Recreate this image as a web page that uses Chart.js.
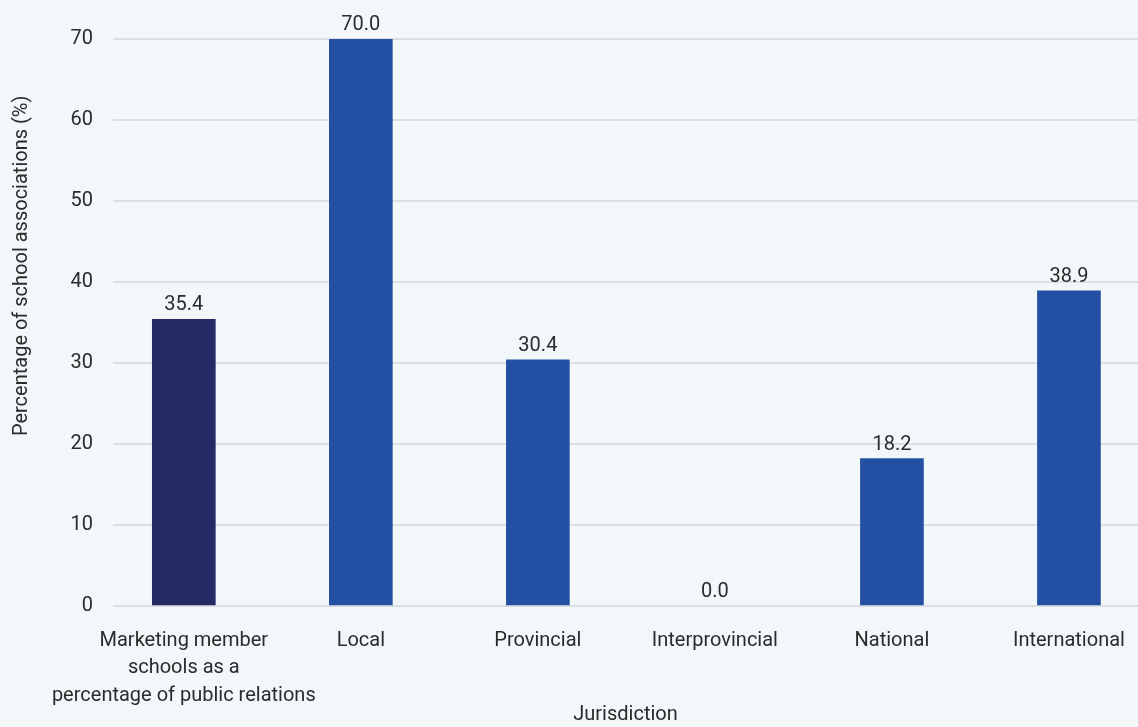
<!DOCTYPE html>
<html>
<head>
<meta charset="utf-8">
<script src="https://cdn.jsdelivr.net/npm/chart.js@4/dist/chart.umd.min.js"></script>
<style>
  html, body { margin: 0; padding: 0; background: #f2f7fa; overflow: hidden; }
  #wrap { width: 1138px; height: 727px; position: relative; }
</style>
</head>
<body>
<div id="wrap"><canvas id="myChart"></canvas></div>
<script>
// chart data
const categories = [
    ['Marketing member', 'schools as a', 'percentage of public relations'],
    'Local', 'Provincial', 'Interprovincial', 'National', 'International'
];
const values = [35.4, 70.0, 30.4, 0.0, 18.2, 38.9];
const barColors = ['#232a66', '#2450a4', '#2450a4', '#2450a4', '#2450a4', '#2450a4'];
const yTicks = [0, 10, 20, 30, 40, 50, 60, 70];
const yTitle = 'Percentage of school associations (%)';

const FONT = "Roboto, 'Liberation Sans', sans-serif";
const TEXT = '#2b2b2b';

// draws the value above each bar
const valueLabels = {
    id: 'valueLabels',
    afterDatasetsDraw(chart) {
        const ctx = chart.ctx;
        const meta = chart.getDatasetMeta(0);
        ctx.save();
        ctx.font = '20px ' + FONT;
        ctx.fillStyle = TEXT;
        ctx.textAlign = 'center';
        ctx.textBaseline = 'bottom';
        meta.data.forEach((bar, i) => {
            ctx.fillText(values[i].toFixed(1), bar.x, bar.y - 4);
        });
        ctx.restore();
    }
};

// y axis title sits higher than the centre of the axis in the original
const yTitleLabel = {
    id: 'yTitleLabel',
    afterDraw(chart) {
        const ctx = chart.ctx;
        const area = chart.chartArea;
        ctx.save();
        ctx.translate(22, area.top + (area.bottom - area.top) * 0.4);
        ctx.rotate(-Math.PI / 2);
        ctx.font = '20px ' + FONT;
        ctx.fillStyle = TEXT;
        ctx.textAlign = 'center';
        ctx.textBaseline = 'middle';
        ctx.fillText(yTitle, 0, 0);
        ctx.restore();
    }
};

const ctx = document.getElementById('myChart').getContext('2d');
const myChart = new Chart(ctx, {
    type: 'bar',
    data: {
        labels: categories.map((c, i) => i),
        datasets: [{
            data: values,
            // zero-height bars should leave no sliver on the axis
            backgroundColor: c => c.raw === 0 ? 'rgba(0,0,0,0)' : barColors[c.dataIndex],
            borderWidth: 0,
            barThickness: 63
        }]
    },
    options: {
        responsive: true,
        maintainAspectRatio: false,
        animation: false,
        layout: { padding: { top: 39, right: 0, bottom: 0, left: 0 } },
        plugins: {
            legend: { display: false },
            tooltip: { enabled: false }
        },
        scales: {
            x: {
                type: 'linear',
                offset: false,
                min: -0.4,
                max: 5.39,
                afterBuildTicks: axis => {
                    axis.ticks = categories.map((c, i) => ({ value: i }));
                },
                afterFit: axis => { axis.height = 121; },
                grid: { display: false },
                border: { display: false },
                ticks: {
                    autoSkip: false,
                    maxRotation: 0,
                    padding: 13,
                    color: TEXT,
                    font: { family: FONT, size: 20, lineHeight: 1.37 },
                    callback: v => categories[v]
                },
                title: {
                    display: true,
                    text: 'Jurisdiction',
                    color: TEXT,
                    font: { family: FONT, size: 20 },
                    padding: { top: 0, bottom: 0 }
                }
            },
            y: {
                min: 0,
                max: 70,
                afterBuildTicks: axis => {
                    axis.ticks = yTicks.map(v => ({ value: v }));
                },
                afterFit: axis => { axis.width = 113; },
                grid: { color: '#dcdfe2', lineWidth: 2, drawTicks: false },
                border: { display: false },
                ticks: {
                    padding: 20,
                    color: TEXT,
                    font: { family: FONT, size: 20 }
                },
                title: { display: false }
            }
        }
    },
    plugins: [valueLabels, yTitleLabel]
});
</script>
</body>
</html>
